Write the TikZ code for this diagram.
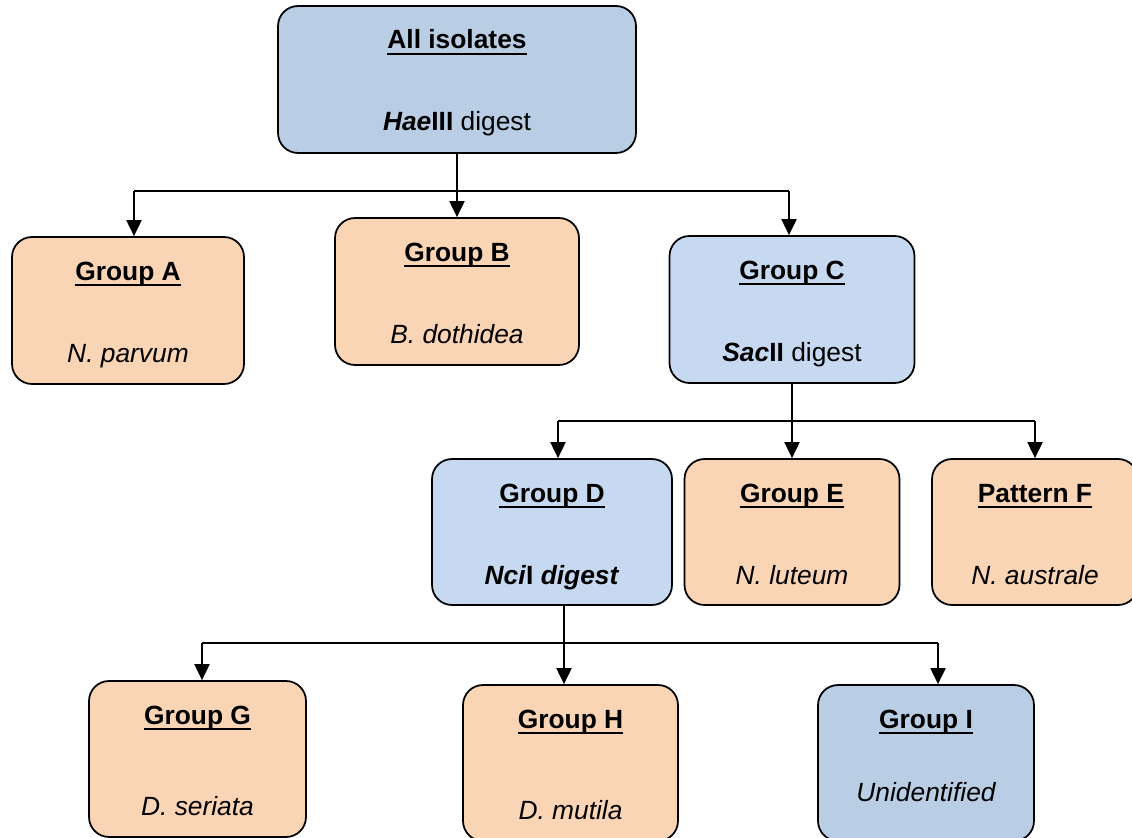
\documentclass[tikz,border=0pt]{standalone}
\usepackage{fontspec}
\setmainfont{Liberation Sans}
\usetikzlibrary{arrows.meta,positioning}
\definecolor{fillBlue}{RGB}{185,205,228}
\definecolor{fillLight}{RGB}{198,217,241}
\definecolor{fillPeach}{RGB}{250,213,181}
\newcommand{\ulthick}[1]{\setbox0=\hbox{#1}\leavevmode\rlap{\raisebox{-3.4pt}{\rule{\wd0}{1.2pt}}}\box0}
\tikzset{
  % Boxes
  grpbox/.style   = {draw=black, line width=1pt, rounded corners=0.4cm, inner sep=0pt},
  bluebox/.style  = {grpbox, fill=fillBlue},
  lightbox/.style = {grpbox, fill=fillLight},
  peachbox/.style = {grpbox, fill=fillPeach},
  % Texts
  ttl/.style = {anchor=base, inner sep=0pt, font=\fontsize{15}{18}\selectfont\bfseries},
  spc/.style = {anchor=base, inner sep=0pt, font=\fontsize{15}{18}\selectfont\itshape},
  dig/.style = {anchor=base, inner sep=0pt, font=\fontsize{15}{18}\selectfont},
  % Connectors
  link/.style    = {line width=1.1pt},
  downarr/.style = {link, -{Triangle[width=0.3cm,length=0.32cm]}},
}
\begin{document}
\begin{tikzpicture}[x=0.02cm, y=-0.02cm]
  \useasboundingbox (0,0) rectangle (1132,838);
  % Level 0
  \node[bluebox, minimum width=7.16cm, minimum height=2.94cm] (top) at (457,79.5) {};
  \node[ttl] (tTop) at (457,49) {\ulthick{All isolates}};
  \node[dig] (sTop) at (457,131) {\textbf{\textit{Hae}III} digest};
  % Level 1
  \node[peachbox, minimum width=4.64cm, minimum height=2.94cm] (grpA) at (128,310.5) {};
  \node[peachbox, minimum width=4.88cm, minimum height=2.94cm] (grpB) at (457,291.5) {};
  \node[lightbox, minimum width=4.90cm, minimum height=2.94cm] (grpC) at (792,309.5) {};
  \node[ttl] (tA) at (128,280) {\ulthick{Group A}};
  \node[spc] (sA) at (128,362) {N. parvum};
  \node[ttl] (tB) at (457,261) {\ulthick{Group B}};
  \node[spc] (sB) at (457,343) {B. dothidea};
  \node[ttl] (tC) at (792,279) {\ulthick{Group C}};
  \node[dig] (sC) at (792,361) {\textbf{\textit{Sac}II} digest};
  % Level 2
  \node[lightbox, minimum width=4.80cm, minimum height=2.92cm] (grpD) at (552,532) {};
  \node[peachbox, minimum width=4.30cm, minimum height=2.92cm] (grpE) at (792,532) {};
  \node[peachbox, minimum width=4.12cm, minimum height=2.92cm] (patF) at (1035,532) {};
  \node[ttl] (tD) at (552,502) {\ulthick{Group D}};
  \node[dig] (sD) at (552,584) {\textbf{\textit{Nci}I \textit{digest}}};
  \node[ttl] (tE) at (792,502) {\ulthick{Group E}};
  \node[spc] (sE) at (792,584) {N. luteum};
  \node[ttl] (tF) at (1035,502) {\ulthick{Pattern F}};
  \node[spc] (sF) at (1035,584) {N. australe};
  % Level 3
  \node[peachbox, minimum width=4.34cm, minimum height=3.12cm] (grpG) at (197.5,759) {};
  \node[peachbox, minimum width=4.30cm, minimum height=3.12cm] (grpH) at (570.5,763) {};
  \node[bluebox, minimum width=4.32cm, minimum height=3.12cm] (grpI) at (926,763) {};
  \node[ttl] (tG) at (197.5,724) {\ulthick{Group G}};
  \node[spc] (sG) at (197.5,815) {D. seriata};
  \node[ttl] (tH) at (570.5,728) {\ulthick{Group H}};
  \node[spc] (sH) at (570.5,819) {D. mutila};
  \node[ttl] (tI) at (926,728) {\ulthick{Group I}};
  \node[spc] (sI) at (926,801) {Unidentified};
  % Connectors
  \coordinate (busAL) at (134,191);
  \coordinate (busAR) at (789,191);
  \draw[downarr] (top) -- (grpB);
  \draw[link] (busAL) -- (busAR);
  \draw[downarr] (busAL) -- (busAL |- grpA.north);
  \draw[downarr] (busAR) -- (busAR |- grpC.north);
  \coordinate (busBL) at (558,421);
  \coordinate (busBR) at (1035,421);
  \draw[downarr] (grpC) -- (grpE);
  \draw[link] (busBL) -- (busBR);
  \draw[downarr] (busBL) -- (busBL |- grpD.north);
  \draw[downarr] (busBR) -- (patF);
  \coordinate (busCL) at (202,643);
  \coordinate (busCM) at (564,643);
  \coordinate (busCR) at (938,643);
  \draw[link] (busCL) -- (busCR);
  \draw[link] (grpD.south -| busCM) -- (busCM);
  \draw[downarr] (busCM) -- (busCM |- grpH.north);
  \draw[downarr] (busCL) -- (busCL |- grpG.north);
  \draw[downarr] (busCR) -- (busCR |- grpI.north);
\end{tikzpicture}
\end{document}
